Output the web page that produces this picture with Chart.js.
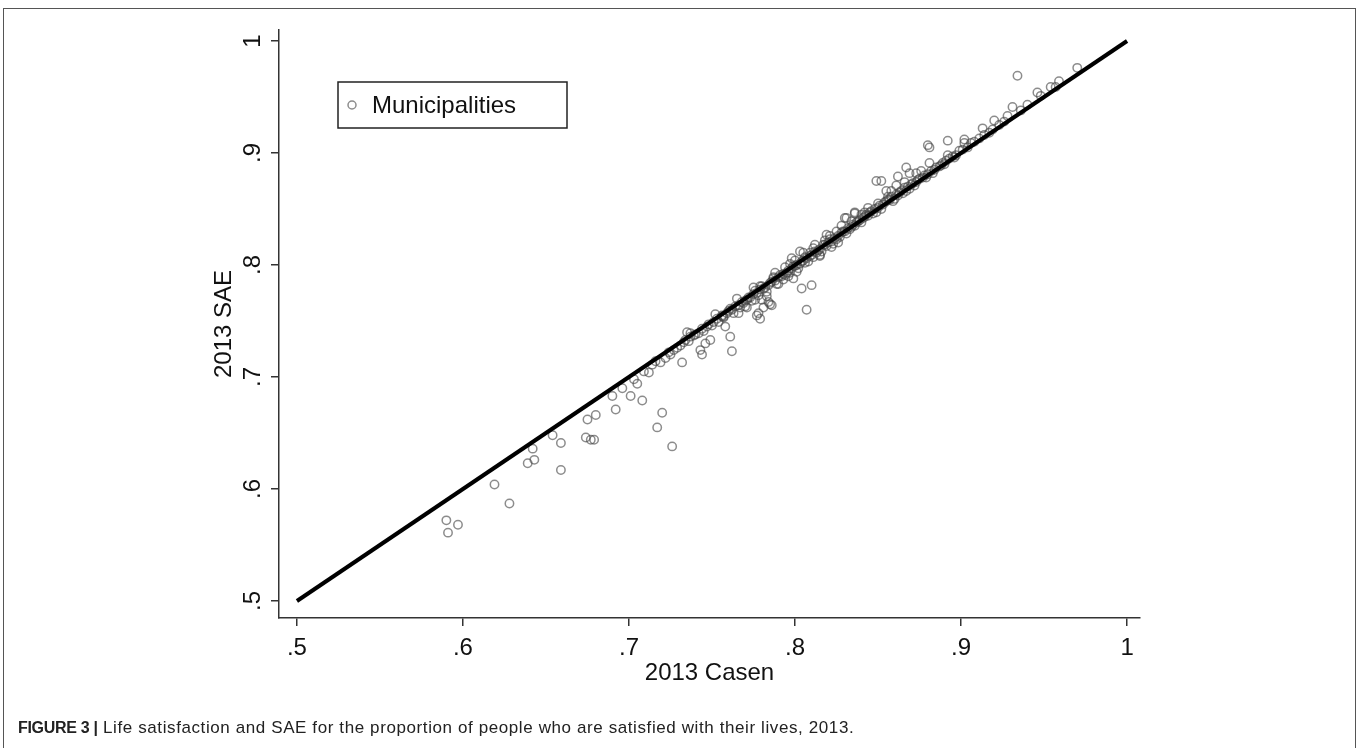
<!DOCTYPE html>
<html>
<head>
<meta charset="utf-8">
<script src="https://cdn.jsdelivr.net/npm/chart.js@4.4.1/dist/chart.umd.min.js"></script>
<style>
  html, body { margin: 0; padding: 0; background: #fff; }
  #wrap { position: relative; width: 1358px; height: 748px; overflow: hidden; }
  #frame { position: absolute; left: 3px; top: 8px; width: 1353px; height: 800px; border: 1.5px solid #555; box-sizing: border-box; }
  canvas { position: absolute; left: 0; top: 0; }
  #caption { position: absolute; left: 18px; top: 718px; font-family: "Liberation Sans", Arial, sans-serif; font-size: 17px; letter-spacing: 0.6px; color: #222; white-space: nowrap; }
  #caption b { font-weight: bold; font-size: 16px; letter-spacing: -0.3px; }
</style>
</head>
<body>
<div id="wrap">
  <div id="frame"></div>
  <canvas id="c" width="1358" height="748"></canvas>
  <div id="caption"><b>FIGURE 3 |</b> Life satisfaction and SAE for the proportion of people who are satisfied with their lives, 2013.</div>
</div>
<script>
// ---- data ----
const seriesLabel = "Municipalities";
const xTitle = "2013 Casen";
const yTitle = "2013 SAE";
const tickValues = [0.5, 0.6, 0.7, 0.8, 0.9, 1.0];
const tickLabels = [".5", ".6", ".7", ".8", ".9", "1"];
const lineX = [0.5, 1.0];
const lineY = [0.5, 1.0];

const casen = [
  0.590,0.591,0.597,0.619,0.628,0.639,0.642,0.643,0.654,0.659,0.659,0.675,0.680,0.674,0.677,0.679,
  0.690,0.692,0.696,0.701,0.705,0.708,0.720,0.717,0.726,
  0.712,0.719,0.725,0.732,0.737,0.743,0.744,0.746,0.749,0.758,0.761,0.762,0.756,0.766,0.771,0.778,0.779,0.781,0.785,0.807,
  0.804,0.810,0.780,0.784,0.786,0.777,
  0.880,0.881,0.892,0.849,0.852,0.867,0.869,0.862,0.855,0.861,0.881,0.892,0.902,0.873,0.836,0.830,
  0.934,0.970,0.959,0.954,0.946,0.931,0.920,0.928,0.913,0.902,
  0.826,0.815,0.803,0.798,0.799,0.793,0.831,0.836,0.819,
  0.703,0.709,0.714,0.716,0.722,0.724,0.727,0.729,
  0.731,0.733,0.734,0.736,0.737,0.739,0.740,0.742,0.744,0.745,0.747,0.748,0.750,0.751,0.753,0.754,
  0.756,0.757,0.759,0.760,0.762,0.763,0.764,0.766,0.767,0.768,0.770,0.771,0.773,0.774,0.775,0.777,
  0.778,0.779,0.781,0.782,0.783,0.785,0.786,0.788,0.789,0.790,0.792,0.793,0.794,0.796,0.797,0.798,
  0.800,0.801,0.802,0.804,0.805,0.806,0.807,0.809,0.810,0.811,0.812,0.814,0.815,0.816,0.818,0.819,
  0.820,0.822,0.823,0.824,0.826,0.827,0.828,0.830,0.831,0.832,0.834,0.835,0.836,0.838,0.839,0.840,
  0.842,0.843,0.844,0.846,0.847,0.848,0.850,0.851,0.852,0.854,0.855,0.857,0.858,0.859,0.861,0.862,
  0.864,0.865,0.866,0.868,0.869,0.871,0.872,0.874,0.875,0.877,0.878,0.880,0.882,0.883,0.885,0.887,
  0.889,0.890,0.893,0.895,0.897,0.899,0.901,0.904,0.906,0.908,0.911,0.914,0.917,0.919,0.923,0.926,
  0.936,0.940,0.948,0.957,
  0.735,0.752,0.765,0.775,0.788,0.797,0.805,0.812,0.821,0.828,0.840,0.844,0.858,0.866,0.876,
  0.770,0.776,0.783,0.790,0.796,0.801,0.808,0.815,0.822,
  0.757,0.761,0.769,0.772,0.776,0.780,0.784,0.787,0.791,0.795,0.799,0.803,0.806,0.809,0.813,0.817,
  0.821,0.825,0.829,0.833,0.837,0.841,0.845,0.849,0.853,0.856,0.860,0.863,0.867,0.870,0.873,0.879,
  0.884,0.888,0.891,0.896,0.779,0.787,0.794,0.800,0.811,0.818,0.825,0.834,0.842,0.850,0.856
];
const sae = [
  0.572,0.561,0.568,0.604,0.587,0.623,0.636,0.626,0.648,0.641,0.617,0.662,0.666,0.646,0.644,0.644,
  0.683,0.671,0.690,0.683,0.694,0.679,0.668,0.655,0.638,
  0.704,0.713,0.720,0.713,0.739,0.724,0.720,0.730,0.733,0.745,0.736,0.723,0.754,0.757,0.762,0.757,0.752,0.762,0.765,0.760,
  0.779,0.782,0.769,0.767,0.764,0.755,
  0.907,0.905,0.911,0.875,0.875,0.887,0.882,0.879,0.866,0.871,0.891,0.898,0.909,0.882,0.847,0.842,
  0.969,0.976,0.964,0.959,0.954,0.941,0.929,0.933,0.922,0.912,
  0.820,0.809,0.812,0.806,0.788,0.787,0.842,0.846,0.827,
  0.698,0.705,0.711,0.714,0.717,0.722,0.724,0.726,
  0.728,0.731,0.733,0.732,0.736,0.737,0.738,0.739,0.743,0.741,0.745,0.747,0.746,0.749,0.752,0.749,
  0.755,0.753,0.757,0.759,0.760,0.757,0.763,0.764,0.762,0.767,0.768,0.769,0.771,0.768,0.774,0.775,
  0.773,0.778,0.779,0.780,0.776,0.784,0.785,0.786,0.783,0.789,0.790,0.792,0.791,0.795,0.793,0.797,
  0.799,0.800,0.797,0.803,0.804,0.802,0.806,0.808,0.809,0.807,0.812,0.813,0.814,0.812,0.818,0.817,
  0.820,0.821,0.819,0.824,0.826,0.825,0.829,0.830,0.828,0.833,0.834,0.836,0.835,0.839,0.840,0.838,
  0.843,0.845,0.844,0.848,0.846,0.850,0.851,0.853,0.850,0.856,0.857,0.858,0.861,0.857,0.863,0.862,
  0.866,0.864,0.869,0.870,0.868,0.873,0.871,0.876,0.877,0.878,0.880,0.881,0.884,0.882,0.887,0.888,
  0.891,0.890,0.895,0.897,0.898,0.902,0.903,0.905,0.909,0.910,0.913,0.916,0.918,0.921,0.925,0.928,
  0.938,0.943,0.951,0.959,
  0.740,0.756,0.770,0.780,0.793,0.801,0.811,0.818,0.826,0.835,0.845,0.851,0.866,0.874,0.884,
  0.763,0.769,0.772,0.783,0.790,0.794,0.803,0.808,0.816,
  0.754,0.761,0.766,0.771,0.777,0.781,0.782,0.788,0.791,0.793,0.799,0.801,0.807,0.811,0.811,0.818,
  0.823,0.823,0.830,0.832,0.838,0.842,0.847,0.847,0.854,0.858,0.859,0.865,0.866,0.872,0.874,0.878,
  0.885,0.889,0.893,0.896,0.781,0.789,0.798,0.804,0.815,0.822,0.830,0.839,0.847,0.855,0.861
];

const scatterData = casen.map((x, i) => ({ x: x, y: sae[i] }));
const lineData = lineX.map((x, i) => ({ x: x, y: lineY[i] }));

const FONT = '"Liberation Sans", Arial, sans-serif';
const pointColor = 'rgba(70,70,70,0.62)';

const overlay = {
  id: 'overlay',
  afterDraw(chart) {
    const ctx = chart.ctx;
    const ca = chart.chartArea;
    const ys = chart.scales.y;
    ctx.save();
    // y tick labels, rotated
    ctx.fillStyle = '#111';
    ctx.font = '24px ' + FONT;
    ctx.textAlign = 'center';
    ctx.textBaseline = 'middle';
    tickValues.forEach((v, i) => {
      const py = ys.getPixelForValue(v);
      ctx.save();
      ctx.translate(ca.left - 26, py);
      ctx.rotate(-Math.PI / 2);
      ctx.fillText(tickLabels[i], 0, 0);
      ctx.restore();
    });
    // y axis title
    ctx.save();
    ctx.translate(ca.left - 55, (ca.top + ca.bottom) / 2);
    ctx.rotate(-Math.PI / 2);
    ctx.fillText(yTitle, 0, 0);
    ctx.restore();
    // x axis title
    ctx.fillText(xTitle, (ca.left + ca.right) / 2, ca.bottom + 55);
    // legend
    const lx = ca.left + 59, ly = ca.top + 52, lw = 229, lh = 46;
    ctx.fillStyle = '#fff';
    ctx.fillRect(lx, ly, lw, lh);
    ctx.strokeStyle = '#222';
    ctx.lineWidth = 1.5;
    ctx.strokeRect(lx, ly, lw, lh);
    ctx.beginPath();
    ctx.arc(lx + 14, ly + 23, 4, 0, Math.PI * 2);
    ctx.strokeStyle = pointColor;
    ctx.lineWidth = 1.5;
    ctx.stroke();
    ctx.fillStyle = '#111';
    ctx.textAlign = 'left';
    ctx.font = '24px ' + FONT;
    ctx.fillText(seriesLabel, lx + 34, ly + 24);
    ctx.restore();
  }
};

new Chart(document.getElementById('c'), {
  type: 'scatter',
  data: {
    datasets: [
      {
        type: 'line',
        label: 'fit',
        data: lineData,
        borderColor: '#000',
        borderWidth: 4,
        pointRadius: 0,
        fill: false,
        order: 0
      },
      {
        label: seriesLabel,
        data: scatterData,
        pointStyle: 'circle',
        pointRadius: 4.2,
        borderWidth: 1.5,
        borderColor: pointColor,
        backgroundColor: 'rgba(0,0,0,0)',
        order: 1
      }
    ]
  },
  options: {
    responsive: false,
    animation: false,
    layout: { padding: { left: 0, top: 30, right: 218, bottom: 0 } },
    plugins: { legend: { display: false }, tooltip: { enabled: false } },
    scales: {
      x: {
        type: 'linear',
        min: 0.4892,
        max: 1.0078,
        afterFit(s) { s.height = 130; },
        afterBuildTicks(s) { s.ticks = tickValues.map(v => ({ value: v })); },
        border: { display: true, color: '#333', width: 1.5 },
        grid: { drawOnChartArea: false, drawTicks: true, tickLength: 8, color: '#333', lineWidth: 1.5 },
        ticks: {
          color: '#111',
          font: { family: FONT, size: 24 },
          padding: 8,
          maxRotation: 0,
          autoSkip: false,
          callback: (v) => { const i = tickValues.findIndex(t => Math.abs(t - v) < 1e-6); return i >= 0 ? tickLabels[i] : ''; }
        }
      },
      y: {
        type: 'linear',
        min: 0.4848,
        max: 1.0098,
        afterFit(s) { s.width = 279; },
        afterBuildTicks(s) { s.ticks = tickValues.map(v => ({ value: v })); },
        border: { display: true, color: '#333', width: 1.5 },
        grid: { drawOnChartArea: false, drawTicks: true, tickLength: 8, color: '#333', lineWidth: 1.5 },
        ticks: { display: false }
      }
    }
  },
  plugins: [overlay]
});
</script>
</body>
</html>
